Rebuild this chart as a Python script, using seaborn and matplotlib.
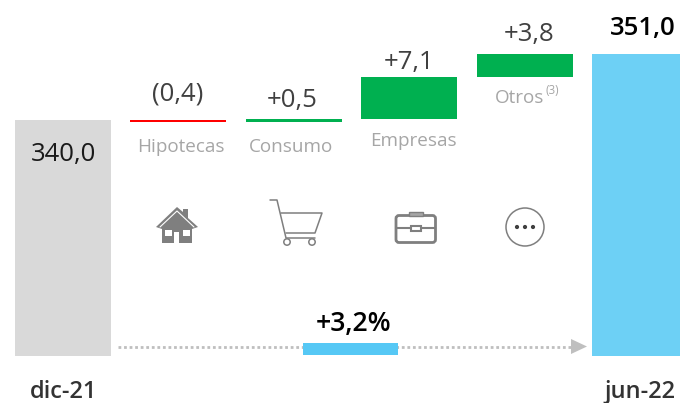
import numpy as np
import pandas as pd
import matplotlib
matplotlib.use("Agg")
import matplotlib.pyplot as plt
from matplotlib.patches import Polygon, Circle, Rectangle, FancyBboxPatch
from matplotlib.lines import Line2D
from matplotlib.transforms import Affine2D
import seaborn as sns

categories = ["dic-21", "Hipotecas", "Consumo", "Empresas", "Otros", "jun-22"]
heights = [340.0, -0.4, 0.5, 7.1, 3.8, 351.0]
bottoms = [300.67, 340.0, 339.6, 340.1, 347.2, 300.67]
bar_colors = ["#D9D9D9", "#FF0000", "#00B050", "#00B050", "#00B050", "#6DD0F5"]
value_labels = ["340,0", "(0,4)", "+0,5", "+7,1", "+3,8", "351,0"]
growth_label = "+3,2%"

sns.set_theme(style="white")
plt.rcParams["font.family"] = ["Open Sans", "DejaVu Sans"]

fig = plt.figure(figsize=(6.8, 4.03), dpi=100, facecolor="white")
ax = fig.add_axes([0, 0, 1, 1])
df = pd.DataFrame({"cat": categories, "h": np.array(heights) - np.where(np.array(bottoms) < 301, np.array(bottoms), 0)})
sns.barplot(data=df, x="cat", y="h", bottom=bottoms, width=0.832, ax=ax, color="#cccccc",
            order=categories, linewidth=0, errorbar=None, saturation=1)
for p, c in zip(ax.patches, bar_colors):
    p.set_facecolor(c)
    p.set_edgecolor("none")
ax.set_xlim(-0.546, 5.346)
ax.set_ylim(292.83, 360)
ax.axis("off")

# pixel-space transform for annotation furniture (origin top-left)
px = Affine2D().scale(1 / 680, -1 / 403).translate(0, 1) + fig.transFigure

DARK = "#404040"
GREY = "#A6A6A6"
ICON = "#7F7F7F"

def t(x, y, s, size=18.5, color=DARK, weight="normal", ha="center"):
    ax.text(x, y, s, transform=px, fontsize=size, color=color, fontweight=weight,
            ha=ha, va="center", zorder=5)

t(63, 154, value_labels[0], color="#1A1A1A")
t(178, 94, value_labels[1])
t(292, 100, value_labels[2])
t(409, 62, value_labels[3])
t(529, 35, value_labels[4])
t(643, 29, value_labels[5], weight="semibold", color="black")
t(353.5, 324, growth_label, size=19.2, weight="semibold", color="black")
t(64, 392, categories[0], size=17, weight="semibold", color="#333333")
t(640, 392, categories[5], size=17, weight="semibold", color="#333333")

t(180.5, 147, categories[1], size=13.6, color=GREY)
t(290.5, 147, categories[2], size=13.6, color=GREY)
t(413.5, 141, categories[3], size=13.6, color=GREY)
t(495, 98, categories[4], size=13.6, color=GREY, ha="left")
t(545, 90, "(3)", size=8.5, color=GREY, ha="left")

# growth arrow
ax.add_line(Line2D([118, 572], [346.5, 346.5], transform=px, color="#BFBFBF", lw=2.0,
                   linestyle=(0, (1, 1)), zorder=2))
ax.add_patch(Polygon([[571, 339], [587, 346.5], [571, 354]], transform=px, fc="#BFBFBF", ec="none", zorder=3))
ax.add_patch(Rectangle((303, 343.3), 95, 12, transform=px, fc="#56C8F5", ec="none", zorder=4))

# house icon
ax.add_patch(Polygon([[162, 243], [162, 229], [156, 227], [177, 207], [183, 212], [183, 209], [188, 209],
                      [188, 218], [198, 227], [192, 229], [192, 243]], transform=px, fc=ICON, ec="none"))
ax.add_line(Line2D([160, 177, 194], [227, 211, 227], transform=px, color="white", lw=0.8))
for r in [(165, 230, 6.5, 6), (183, 230, 6.5, 6)]:
    ax.add_patch(Rectangle(r[:2], r[2], r[3], transform=px, fc="white", ec="none"))
ax.add_patch(Rectangle((174, 232), 5, 11, transform=px, fc="white", ec="none"))

# cart icon
ax.add_line(Line2D([270, 277, 286, 315], [200, 200, 238, 238], transform=px, color=ICON, lw=1.1))
ax.add_line(Line2D([286, 315, 322, 281], [233, 233, 213, 213], transform=px, color=ICON, lw=1.1))
for cx in [287, 312]:
    ax.add_patch(Circle((cx, 242), 3.2, transform=px, fc="white", ec=ICON, lw=1.1, zorder=3))

# briefcase icon
ax.add_patch(FancyBboxPatch((396, 215.5), 39.5, 27, boxstyle="round,pad=0,rounding_size=3", transform=px,
                            fc="white", ec=ICON, lw=2))
ax.add_patch(Rectangle((409, 211.5), 14, 4, transform=px, fc="#A6A6A6", ec=ICON, lw=1))
ax.add_line(Line2D([396, 435], [228, 228], transform=px, color=ICON, lw=1.5))
ax.add_patch(Rectangle((411, 226), 10, 4.5, transform=px, fc="white", ec=ICON, lw=1.5, zorder=3))

# "more" icon
ax.add_patch(Circle((525, 227), 19, transform=px, fc="white", ec=ICON, lw=1.1))
for cx in [517, 525, 533]:
    ax.add_patch(Circle((cx, 227), 2.1, transform=px, fc="#404040", ec="none", zorder=3))

fig.savefig("out.png", dpi=100, facecolor="white")
